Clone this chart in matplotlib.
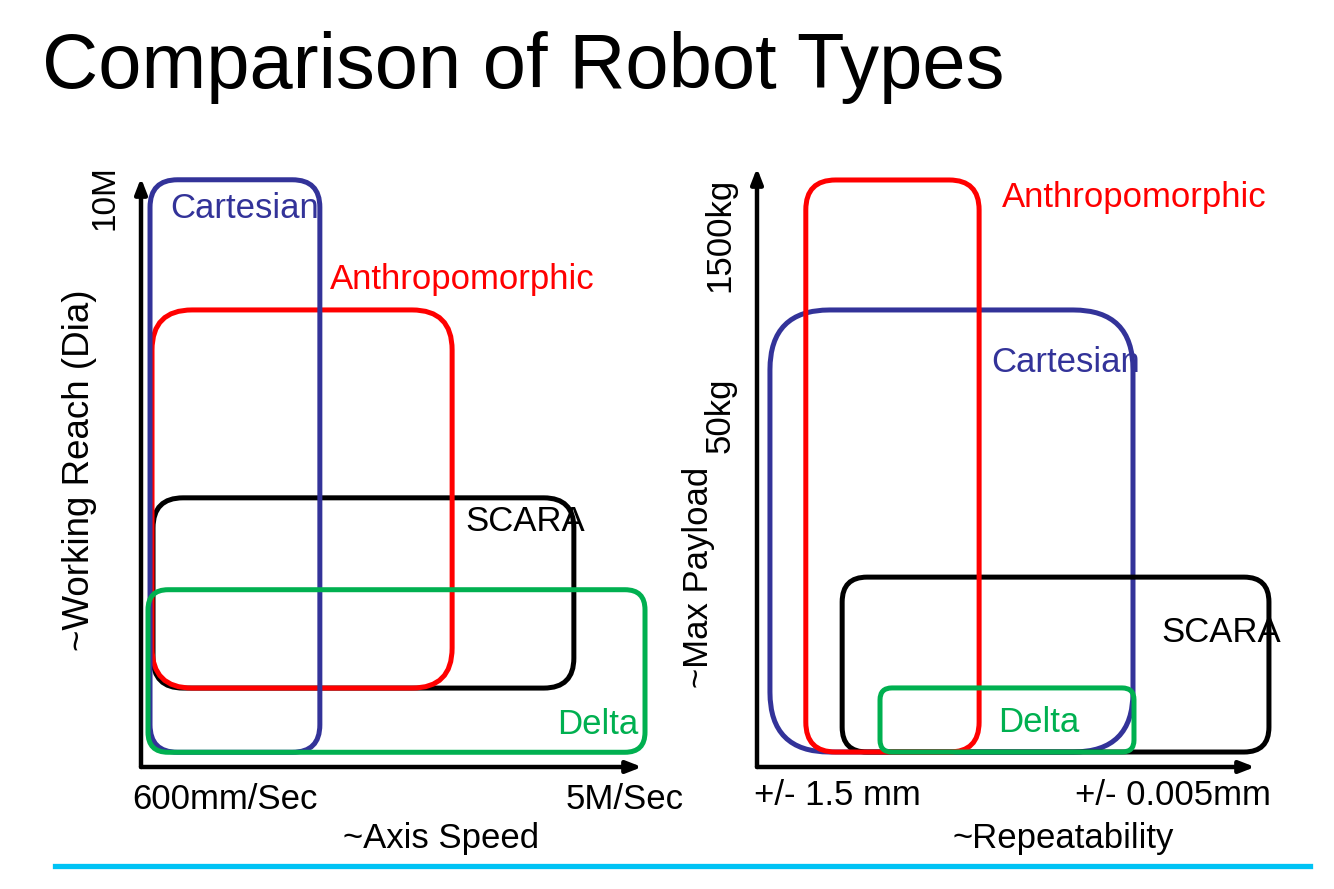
import matplotlib.pyplot as plt
from matplotlib.patches import FancyBboxPatch
from matplotlib.lines import Line2D

plt.rcParams['font.family'] = ['Liberation Sans', 'DejaVu Sans']

# 두 차트의 데이터 (축 길이를 0~100 으로 본 상대 위치)
robots = ['Cartesian', 'Anthropomorphic', 'SCARA', 'Delta']

# 왼쪽 : 속도 vs 작업 반경  (x0, x1, y0, y1)
speed_lo = [1.8, 2.2, 2.4, 1.4]
speed_hi = [35.7, 62.1, 86.4, 100.6]
reach_lo = [2.5, 13.4, 13.4, 2.5]
reach_hi = [99.7, 77.6, 45.7, 30.1]

# 오른쪽 : 반복정밀도 vs 최대 하중
rep_lo = [2.6, 9.8, 17.1, 24.7]
rep_hi = [75.5, 44.6, 102.8, 75.7]
load_lo = [2.5, 2.5, 2.5, 2.5]
load_hi = [76.3, 98.0, 31.7, 13.2]

left_ticks = ['600mm/Sec', '5M/Sec']
right_ticks = ['+/- 1.5 mm', '+/- 0.005mm']
left_yticks = ['10M']
right_yticks = ['1500kg', '50kg']

colors = {'Cartesian': '#333399', 'Anthropomorphic': '#FF0000',
          'SCARA': '#000000', 'Delta': '#00B050'}

W, H = 1334, 889
fig = plt.figure(figsize=(W / 100, H / 100), dpi=100)

def make_ax(x0, y0, x1, y1):
    # 픽셀 위치 -> figure 좌표
    ax = fig.add_axes([x0 / W, 1 - y0 / H, (x1 - x0) / W, (y0 - y1) / H])
    ax.set_xlim(0, 100)
    ax.set_ylim(0, 100)
    ax.axis('off')
    aspect = ((x1 - x0) / 100) / ((y0 - y1) / 100)
    # 화살표 축
    ax.annotate('', xy=(100, 0), xytext=(0, 0),
                arrowprops=dict(arrowstyle='-|>,head_length=0.9,head_width=0.35',
                                lw=3.2, color='black', shrinkA=0, shrinkB=0),
                annotation_clip=False)
    ax.annotate('', xy=(0, 100), xytext=(0, 0),
                arrowprops=dict(arrowstyle='-|>,head_length=0.9,head_width=0.35',
                                lw=3.2, color='black', shrinkA=0, shrinkB=0),
                annotation_clip=False)
    return ax, aspect

def box(ax, aspect, name, x0, x1, y0, y1, r, z):
    p = FancyBboxPatch((x0, y0), x1 - x0, y1 - y0,
                       boxstyle='round,pad=0,rounding_size=%g' % r,
                       mutation_aspect=aspect, fill=False,
                       ec=colors[name], lw=3.6, zorder=z, clip_on=False)
    ax.add_patch(p)

fs = 25

# ---- 왼쪽 차트
axL, aspL = make_ax(141, 767, 642, 178)
radL = [5.5, 8, 6, 4]
zL = [4, 3, 2, 5]
for i, n in enumerate(robots):
    box(axL, aspL, n, speed_lo[i], speed_hi[i], reach_lo[i], reach_hi[i], radL[i], zL[i])

axL.text(5.8, 94.9, 'Cartesian', color=colors['Cartesian'], fontsize=fs, va='center', zorder=10)
axL.text(37.7, 82.7, 'Anthropomorphic', color=colors['Anthropomorphic'], fontsize=fs, va='center', zorder=10)
axL.text(64.7, 41.6, 'SCARA', color=colors['SCARA'], fontsize=fs, va='center', zorder=10)
axL.text(83.0, 7.2, 'Delta', color=colors['Delta'], fontsize=fs, va='center', zorder=10)
axL.text(-7.2, 96.6, left_yticks[0], fontsize=fs - 1, rotation=90, ha='center', va='center')
axL.text(-12.2, 50.4, '~Working Reach (Dia)', fontsize=26.5, rotation=90, ha='center', va='center')
axL.text(16.8, -5.6, left_ticks[0], fontsize=fs, ha='center', va='center')
axL.text(96.6, -5.6, left_ticks[1], fontsize=fs, ha='center', va='center')
axL.text(59.9, -12.1, '~Axis Speed', fontsize=fs, ha='center', va='center')

# ---- 오른쪽 차트
axR, aspR = make_ax(757, 767, 1255, 168)
radR = [12, 6, 5, 2.4]
zR = [2, 4, 3, 5]
for i, n in enumerate(robots):
    box(axR, aspR, n, rep_lo[i], rep_hi[i], load_lo[i], load_hi[i], radR[i], zR[i])

axR.text(49.2, 95.0, 'Anthropomorphic', color=colors['Anthropomorphic'], fontsize=fs, va='center', zorder=10)
axR.text(47.0, 67.6, 'Cartesian', color=colors['Cartesian'], fontsize=fs, va='center', zorder=10)
axR.text(81.3, 22.4, 'SCARA', color=colors['SCARA'], fontsize=fs, va='center', zorder=10)
axR.text(48.4, 7.5, 'Delta', color=colors['Delta'], fontsize=fs, va='center', zorder=10)
axR.text(-7.4, 88.8, right_yticks[0], fontsize=fs, rotation=90, ha='center', va='center')
axR.text(-7.4, 58.8, right_yticks[1], fontsize=fs, rotation=90, ha='center', va='center')
axR.text(-11.8, 31.6, '~Max Payload', fontsize=fs, rotation=90, ha='center', va='center')
axR.text(16.1, -4.8, right_ticks[0], fontsize=fs, ha='center', va='center')
axR.text(83.5, -4.8, right_ticks[1], fontsize=fs, ha='center', va='center')
axR.text(61.4, -11.9, '~Repeatability', fontsize=fs, ha='center', va='center')

# 제목과 아래 선
fig.text(42 / W, 1 - 88 / H, 'Comparison of Robot Types', fontsize=56, va='baseline')
fig.add_artist(Line2D([55 / W, 1310 / W], [1 - 866 / H, 1 - 866 / H],
                      color='#00C3F5', lw=3.8))

fig.savefig('out.png', dpi=100)
